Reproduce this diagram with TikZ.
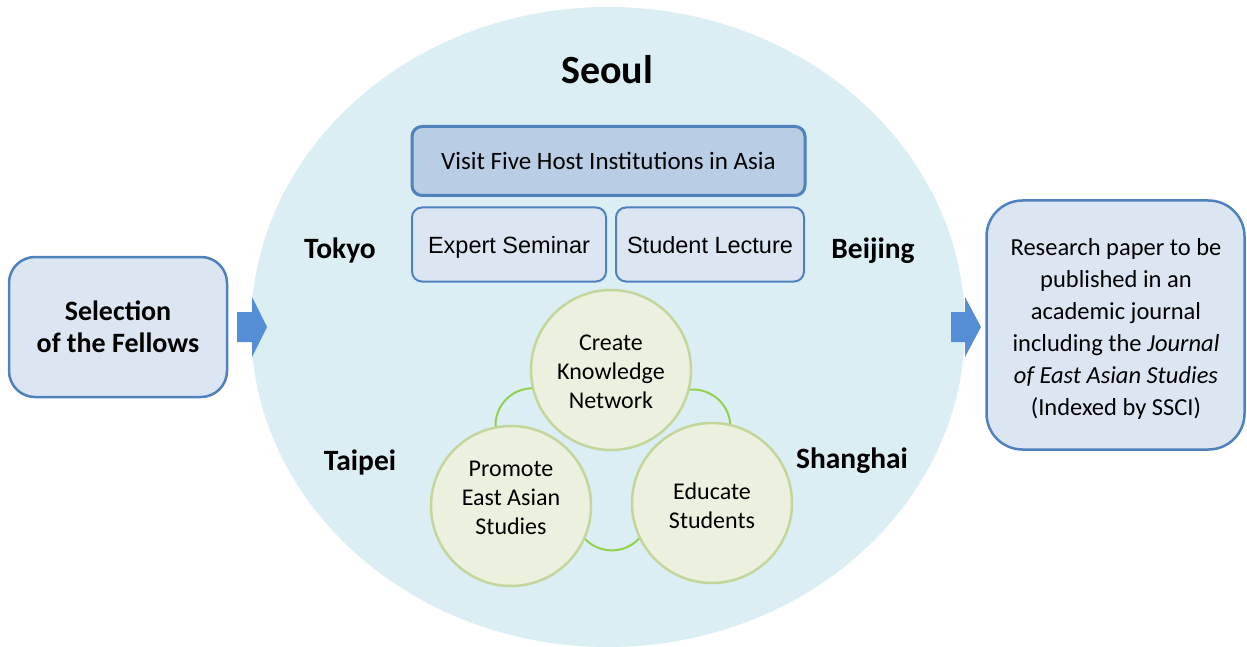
\documentclass[tikz,border=0pt]{standalone}
\usepackage{fontspec}
\setmainfont{Carlito}
\newfontfamily\arialf{Liberation Sans}
\usetikzlibrary{shapes.geometric}
\definecolor{ellfill}{HTML}{DAEEF3}
\definecolor{boxfill}{HTML}{DCE6F2}
\definecolor{boxdraw}{HTML}{4F81BD}
\definecolor{topfill}{HTML}{B9CDE5}
\definecolor{arrfill}{HTML}{558ED5}
\definecolor{circfill}{HTML}{EBF1DE}
\definecolor{circdraw}{HTML}{C3D69B}
\definecolor{arcdraw}{HTML}{92D050}
\tikzset{
  sidebox/.style={draw=boxdraw, fill=boxfill, line width=2.5pt, rounded corners=26pt, align=center, inner sep=0pt},
  smallbox/.style={draw=boxdraw, fill=boxfill, line width=2pt, rounded corners=10pt, minimum height=74pt, inner sep=0pt, text height=20pt, text depth=2pt, font=\arialf\fontsize{23.5}{28}\selectfont},
  topbox/.style={draw=boxdraw, fill=topfill, line width=3pt, rounded corners=10pt, minimum width=393pt, minimum height=69pt, inner sep=0pt, font=\fontsize{25}{28}\selectfont},
  goalcirc/.style={circle, draw=circdraw, fill=circfill, line width=2.5pt, minimum size=160pt, inner sep=0pt},
  goaltext/.style={align=center, font=\fontsize{24}{29}\selectfont},
  city/.style={font=\bfseries\fontsize{29.5}{32}\selectfont},
  ringarc/.style={draw=arcdraw, line width=2pt},
  bigarrow/.style={fill=arrfill},
}
\begin{document}
\begin{tikzpicture}[x=1pt,y=-1pt]
\useasboundingbox (0,0) rectangle (1247,647);
% big ellipse
\node[ellipse, fill=ellfill, minimum width=714pt, minimum height=640pt, inner sep=0pt] (seoulbg) at (608,327) {};
\node[font=\bfseries\fontsize{40}{44}\selectfont] (seoul) at (607,70) {Seoul};
% side boxes
\node[sidebox, minimum width=218pt, minimum height=140pt, font=\bfseries\fontsize{28}{32}\selectfont] (sel) at (118,327) {Selection\\of the Fellows};
\node[sidebox, rounded corners=36pt, minimum width=258pt, minimum height=249pt] (res) at (1115.5,325) {};
\node[align=center, font=\fontsize{24.5}{32}\selectfont] (restext) at (1116,329) {Research paper to be\\published in an\\academic journal\\including the \textit{Journal}\\\textit{of East Asian Studies}\\(Indexed by SSCI)};
% arrows
\coordinate (la) at (237,327);
\coordinate (ra) at (951,327);
\fill[bigarrow] (la) ++(0,-15) -- ++(15,0) -- ++(0,-15) -- ++(15,30) -- ++(-15,30) -- ++(0,-15) -- ++(-15,0) -- cycle;
\fill[bigarrow] (ra) ++(0,-15) -- ++(14,0) -- ++(0,-15) -- ++(16,30) -- ++(-16,30) -- ++(0,-15) -- ++(-14,0) -- cycle;
% boxes
\node[topbox] (visit) at (608.5,161) {Visit Five Host Institutions in Asia};
\node[smallbox, minimum width=194pt] (expert) at (509,244.5) {Expert Seminar};
\node[smallbox, minimum width=188pt] (lecture) at (710,244.5) {Student Lecture};
% cities
\node[city] (tokyo) at (340,250) {Tokyo};
\node[city] (beijing) at (873,251) {Beijing};
\node[city] (taipei) at (360,462) {Taipei};
\node[city] (shanghai) at (852,461) {Shanghai};
% circles
\node[goalcirc] (create) at (611,370) {};
\node[goalcirc] (promote) at (511,506) {};
\node[goalcirc] (educate) at (712,503) {};
\node[goaltext] (createtxt) at (611,372) {Create\\Knowledge\\Network};
\node[goaltext] (promotetxt) at (511,498) {Promote\\East Asian\\Studies};
\node[goaltext] (educatetxt) at (712,506) {Educate\\Students};
% ring arcs
\draw[ringarc] (create.193) to[bend right=45] (promote.101);
\draw[ringarc] (create.346) to[bend left=45] (educate.77);
\draw[ringarc] (promote.336) to[bend right=47] (educate.206);
\end{tikzpicture}
\end{document}
